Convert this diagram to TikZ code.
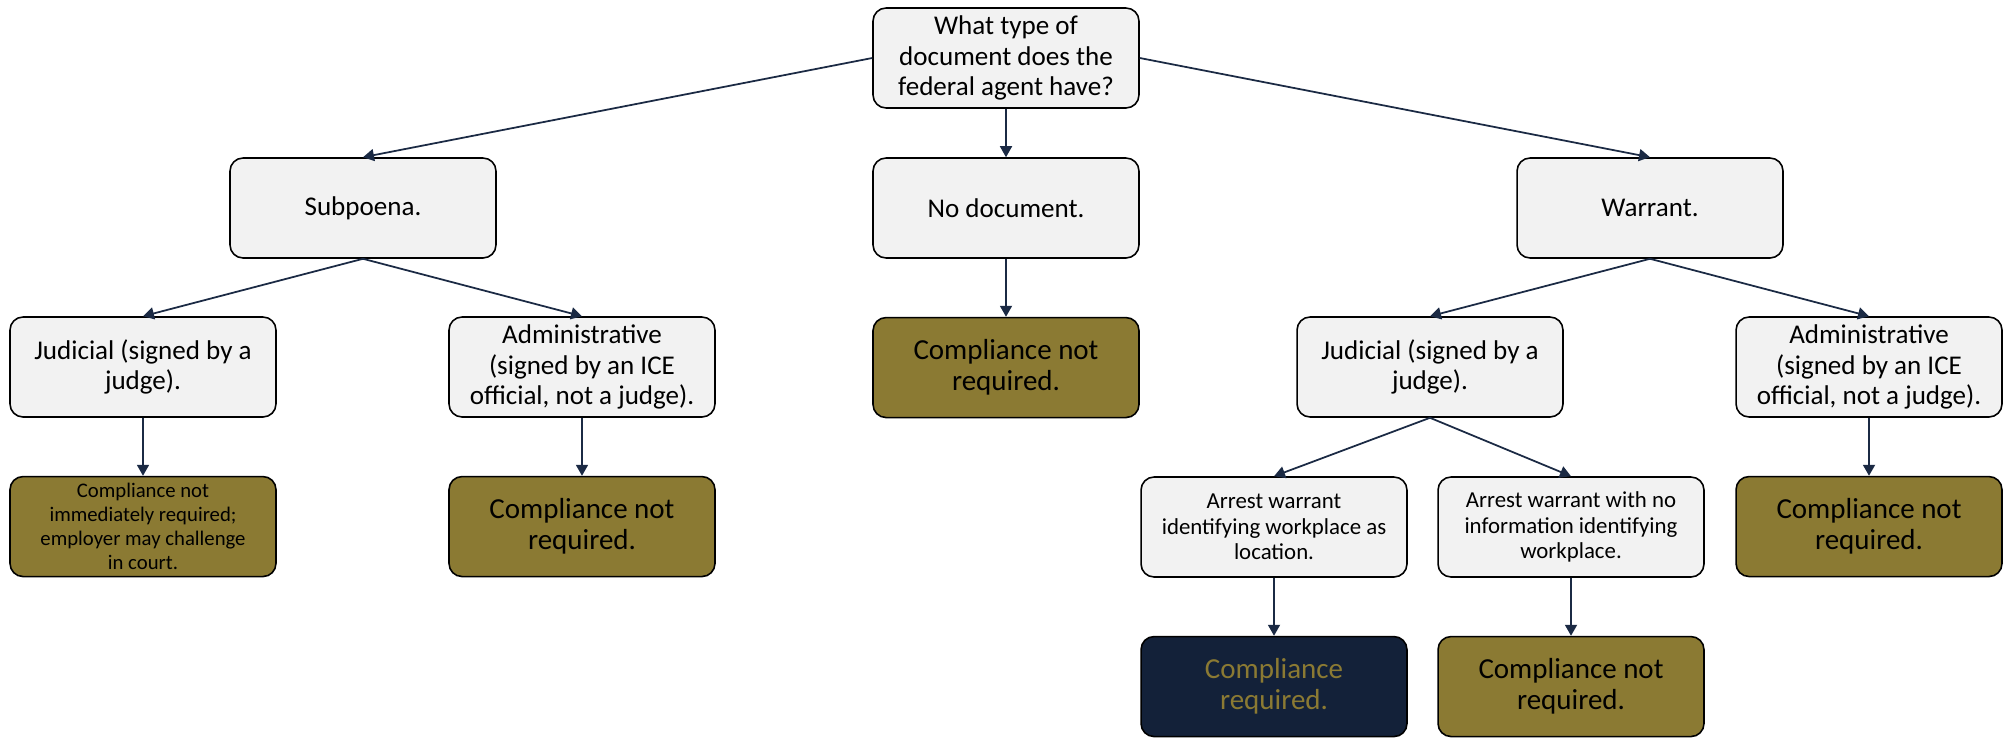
\documentclass[tikz,border=0pt]{standalone}
\usepackage{fontspec}
\setmainfont{Carlito}
\usepackage{tikz}
\usetikzlibrary{positioning, arrows.meta}

\definecolor{boxgray}{HTML}{F2F2F2}
\definecolor{olive}{HTML}{8B7A33}
\definecolor{navy}{HTML}{132139}
\definecolor{linkblue}{HTML}{1B2A44}

\begin{document}
\begin{tikzpicture}[x=0.02cm, y=-0.02cm,
    node distance=1.16cm,
    box/.style={draw=black, line width=0.9pt, rounded corners=0.26cm,
        minimum width=5.32cm, minimum height=2.0cm, inner sep=2pt,
        align=center, font=\fontsize{15.4}{17.5}\selectfont},
    choice/.style={box, fill=boxgray},
    outcome/.style={box, fill=olive, font=\fontsize{16.5}{17.5}\selectfont},
    required/.style={box, fill=navy, text=olive, font=\fontsize{16.5}{17.5}\selectfont},
    smallchoice/.style={choice, font=\fontsize{13}{14.6}\selectfont},
    smalloutcome/.style={outcome, font=\fontsize{11.8}{13.7}\selectfont},
    link/.style={draw=linkblue, line width=1pt, -{Triangle[width=0.24cm, length=0.22cm]}}]

    \useasboundingbox (0,0) rectangle (2010,738);

    % Draw the question and the three kinds of document
    \node[choice]              (type)  at (1006,58)  {What type of\\document does the\\federal agent have?};
    \node[choice]              (subp)  at (363,208)  {Subpoena.};
    \node[choice]              (nodoc) at (1006,208) {No document.};
    \node[choice]              (warr)  at (1650,208) {Warrant.};

    % Subpoena branch
    \node[choice]              (sjud)  at (143,367)  {Judicial (signed by a\\judge).};
    \node[choice]              (sadm)  at (582,367)  {Administrative\\(signed by an ICE\\official, not a judge).};
    \node[smalloutcome, below=of sjud] (sjudres) {Compliance not\\immediately required;\\employer may challenge\\in court.};
    \node[outcome, below=of sadm]      (sadmres) {Compliance not\\required.};

    % No document
    \node[outcome, below=of nodoc]     (nodocres) {Compliance not\\required.};

    % Warrant branch
    \node[choice]              (wjud)  at (1430,367) {Judicial (signed by a\\judge).};
    \node[choice]              (wadm)  at (1869,367) {Administrative\\(signed by an ICE\\official, not a judge).};
    \node[smallchoice]         (wloc)  at (1274,527) {Arrest warrant\\identifying workplace as\\location.};
    \node[smallchoice]         (wnone) at (1571,527) {Arrest warrant with no\\information identifying\\workplace.};
    \node[outcome, below=of wadm]      (wadmres)  {Compliance not\\required.};
    \node[required, below=of wloc]     (wlocres)  {Compliance\\required.};
    \node[outcome, below=of wnone]     (wnoneres) {Compliance not\\required.};

    % Connect the boxes with arrows
    \draw[link] (type.west)  -- (subp.north);
    \draw[link] (type.south) -- (nodoc.north);
    \draw[link] (type.east)  -- (warr.north);
    \draw[link] (subp.south) -- (sjud.north);
    \draw[link] (subp.south) -- (sadm.north);
    \draw[link] (sjud) -- (sjudres);
    \draw[link] (sadm) -- (sadmres);
    \draw[link] (nodoc) -- (nodocres);
    \draw[link] (warr.south) -- (wjud.north);
    \draw[link] (warr.south) -- (wadm.north);
    \draw[link] (wjud.south) -- (wloc.north);
    \draw[link] (wjud.south) -- (wnone.north);
    \draw[link] (wadm) -- (wadmres);
    \draw[link] (wloc) -- (wlocres);
    \draw[link] (wnone) -- (wnoneres);
\end{tikzpicture}
\end{document}
